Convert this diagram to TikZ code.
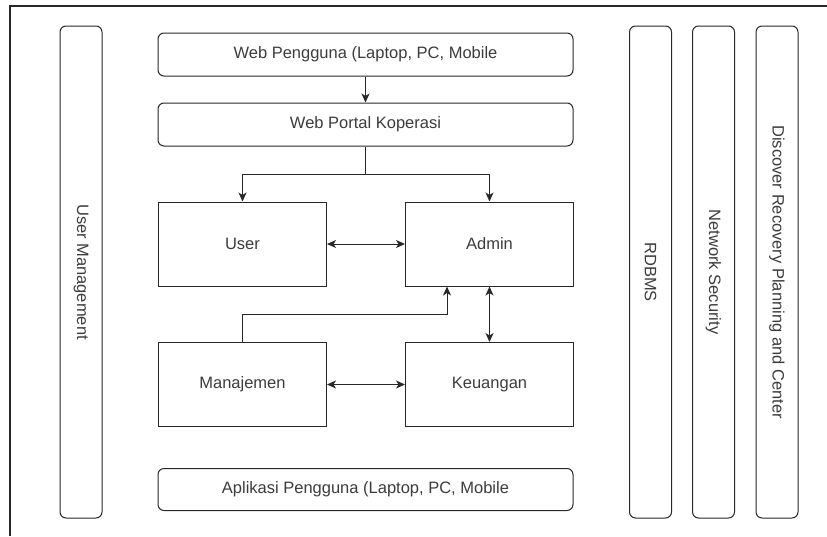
\documentclass[tikz,border=0pt]{standalone}
\usepackage{fontspec}
\setmainfont{Liberation Sans}
\usepackage{xcolor}
\usepackage{tikz}
\usetikzlibrary{arrows.meta,positioning}
\definecolor{linegray}{RGB}{40,40,40}
\definecolor{textgray}{RGB}{60,60,60}
\tikzset{
  wide/.style={draw=linegray,line width=1pt,rounded corners=6pt,minimum width=415pt,minimum height=43pt,inner sep=0pt,text=textgray},
  block/.style={draw=linegray,line width=1pt,minimum width=168pt,minimum height=84pt,inner sep=0pt,text=textgray},
  bar/.style={draw=linegray,line width=1pt,rounded corners=6pt,rotate=-90,minimum width=492pt,minimum height=42pt,inner sep=0pt,text=textgray}
}

\begin{document}
\begin{tikzpicture}[x=1pt,y=-1pt,>={Stealth[length=9pt,width=8pt,inset=2.5pt]},font=\fontsize{16.5}{19}\selectfont]
\useasboundingbox (0,0) rectangle (827,536);
%%Outer frame (only the top and the left edge show)
\draw[linegray,line width=1.2pt] (10,536) -- (10,6) -- (827,6);
%%First place the nodes
\node[wide] (web) at (365.5,54.5) {Web Pengguna (Laptop, PC, Mobile};
\node[wide] (portal) at (365.5,124.5) {Web Portal Koperasi};
\node[block] (user) at (242.5,244) {User};
\node[block] (admin) [right=78pt of user] {Admin};
\node[block] (mnj) at (242.5,384.5) {Manajemen};
\node[block] (keu) [right=78pt of mnj] {Keuangan};
\node[wide,minimum height=42pt] (apl) at (365.5,489.5) {Aplikasi Pengguna (Laptop, PC, Mobile};
%%The side bars
\node[bar] (umgmt) at (81,272) {User Management};
\node[bar] (rdbms) at (650.5,272) {RDBMS};
\node[bar] (netsec) at (713.5,272) {Network Security};
\node[bar] (drp) at (777,272) {Discover Recovery Planning and Center};
%%Bends of the elbow lines
\coordinate (split) at (365.5,174);
\coordinate (bend) at (447,314);
%%Draw the one-way arrows
\draw[linegray,line width=1pt] (portal) -- (split);
\draw[->,linegray,line width=1pt] (web) -- (portal);
\draw[->,linegray,line width=1pt] (split) -| (user);
\draw[->,linegray,line width=1pt] (split) -| (admin);
\draw[->,linegray,line width=1pt] (mnj.north) |- (bend) -- (bend |- admin.south);
%%Draw the two-way arrows
\draw[<->,linegray,line width=1pt]
(user) edge (admin)
(admin) edge (keu)
(mnj) edge (keu);
\end{tikzpicture}
\end{document}
